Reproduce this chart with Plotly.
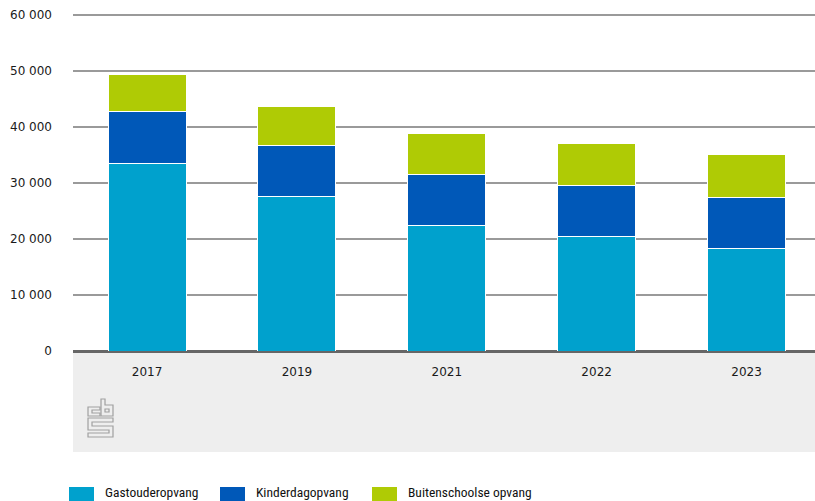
import plotly.graph_objects as go

years = ["2017", "2019", "2021", "2022", "2023"]
gastouder = [33550, 27640, 22390, 20370, 18220]
kinderdag = [9260, 9020, 9080, 9130, 9240]
buitenschools = [6570, 7040, 7450, 7520, 7700]
series_names = ["Gastouderopvang", "Kinderdagopvang", "Buitenschoolse opvang"]
series_colors = ["#00a1cd", "#0058b8", "#afcb05"]
y_ticks = [0, 10000, 20000, 30000, 40000, 50000, 60000]

W, H = 815, 501
L, R, T, B = 73, 0, 14, 150
PW, PH = W - L - R, H - T - B
Y_MAX = 60180


def px(x):
    return (x - L) / PW


def py(y):
    return (T + PH - y) / PH


fig = go.Figure()
for name, vals, col in zip(series_names, [gastouder, kinderdag, buitenschools], series_colors):
    fig.add_trace(go.Bar(
        x=years, y=vals, name=name, width=0.52,
        marker=dict(color=col, line=dict(color="white", width=1)),
        showlegend=False, hoverinfo="x+y+name",
    ))

shapes = []
# grey panel under the axis
shapes.append(dict(type="rect", xref="paper", yref="paper", x0=0, x1=1,
                   y0=py(452), y1=0, fillcolor="#eeeeee", line=dict(width=0), layer="below"))

# CBS logo (approximate outline)
logo_paths = [
    [(100, 407), (88, 407), (88, 416), (100, 416), (100, 413), (92, 413), (92, 410), (100, 410)],
    [(101, 399), (105, 399), (105, 405), (113, 405), (113, 416), (101, 416)],
    [(105, 409), (109, 409), (109, 412), (105, 412)],
    [(88, 418), (113, 418), (113, 422), (92, 422), (92, 426), (113, 426), (113, 437),
     (88, 437), (88, 433), (109, 433), (109, 430), (88, 430)],
]
for pts in logo_paths:
    d = "M " + " L ".join(f"{px(x):.5f},{py(y):.5f}" for x, y in pts) + " Z"
    shapes.append(dict(type="path", xref="paper", yref="paper", path=d,
                       line=dict(color="#a0a0a0", width=1.2), fillcolor="rgba(0,0,0,0)"))

# legend swatches and labels
annotations = []
leg_x = [69, 220, 372]
for lx, name, col in zip(leg_x, series_names, series_colors):
    shapes.append(dict(type="rect", xref="paper", yref="paper",
                       x0=px(lx), x1=px(lx + 25), y0=py(502), y1=py(487),
                       fillcolor=col, line=dict(width=0)))
    annotations.append(dict(xref="paper", yref="paper", x=px(lx + 34), y=py(492),
                            xanchor="left", yanchor="middle", showarrow=False, text=name,
                            font=dict(family="Roboto Condensed, Liberation Sans Narrow, Lato",
                                      size=13.5, color="#111111")))

fig.update_layout(
    width=W, height=H,
    margin=dict(l=L, r=R, t=T, b=B, pad=0),
    barmode="stack",
    plot_bgcolor="white", paper_bgcolor="white",
    separators=", ",
    font=dict(family="DejaVu Sans", size=12, color="#1a1a1a"),
    shapes=shapes,
    annotations=annotations,
    showlegend=False,
    xaxis=dict(type="category", range=[-0.494, 4.457], showgrid=False, zeroline=False,
               showline=False, ticks="", ticklabelstandoff=12, automargin=False,
               tickfont=dict(family="DejaVu Sans", size=12, color="#1a1a1a")),
    yaxis=dict(range=[0, Y_MAX], tickvals=y_ticks, tickformat=",d", showgrid=True,
               gridcolor="#9a9a9a", gridwidth=1.5, zeroline=True, zerolinecolor="#666666",
               zerolinewidth=3, showline=False, ticks="", ticklabelstandoff=20, automargin=False,
               tickfont=dict(family="DejaVu Sans", size=12, color="#1a1a1a")),
)

fig.write_html("out.html", config={"displayModeBar": False},
               post_script="document.body.style.margin='0';document.body.style.overflow='hidden';")
